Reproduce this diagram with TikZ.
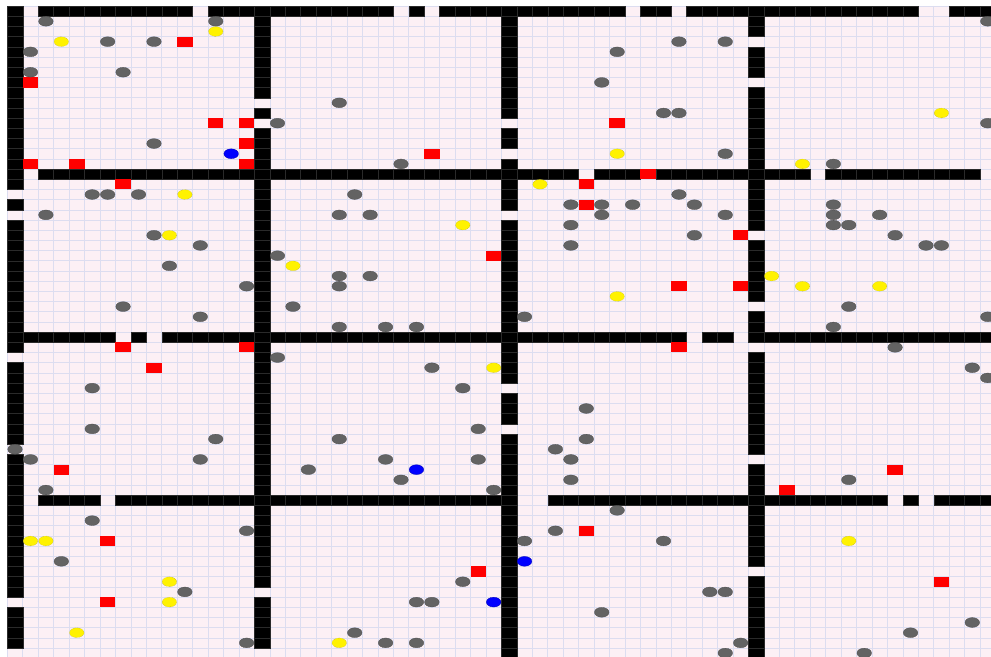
\documentclass[tikz,border=0pt]{standalone}
\definecolor{bgpink}{HTML}{FCF0F5}
\definecolor{gridc}{HTML}{DCDDF0}
\definecolor{agentgray}{HTML}{636363}
\definecolor{wallline}{HTML}{2A2A2A}
\begin{document}
\begin{tikzpicture}[x=15.44pt,y=-10.19pt,
  wallcell/.style={fill=black,draw=wallline,line width=0.4pt},
  redbox/.style={fill=red,draw=none},
  grayagent/.style={fill=agentgray,draw=agentgray!80!black,line width=0.3pt},
  yellowagent/.style={fill=yellow,draw=yellow!45!black,line width=0.3pt,densely dotted},
  blueagent/.style={fill=blue,draw=blue!70!black,line width=0.3pt},
  gridline/.style={draw=gridc,line width=0.5pt}]
\useasboundingbox (-0.4728,-0.5888) rectangle (63.711,63.886);
\clip (-0.4728,-0.5888) rectangle (63.711,63.886);
\fill[white] (-0.4728,-0.5888) rectangle (63.711,63.886);
\fill[bgpink] (0,0) rectangle (64,64);
\foreach \i in {0,...,64} {
  \draw[gridline] (\i,0) -- (\i,64);
  \draw[gridline] (0,\i) -- (64,\i);
}
% horizontal walls: row / first col / last col
\foreach \r/\a/\b in {0/0/0,0/2/11,0/13/24,0/26/26,0/28/39,0/41/42,0/44/58,0/61/63,
  16/0/0,16/2/36,16/38/40,16/42/51,16/53/62,
  32/0/6,32/8/8,32/10/43,32/45/46,32/48/63,
  48/0/0,48/2/5,48/7/32,48/35/56,48/58/58,48/60/63} {
  \foreach \c in {\a,...,\b} { \draw[wallcell] (\c,\r) rectangle ++(1,1); }
}
% vertical walls: col / first row / last row
\foreach \c/\a/\b in {0/0/17,0/19/19,0/21/33,0/35/42,0/44/57,0/59/62,
  16/0/8,16/10/10,16/12/56,16/58/62,
  32/0/10,32/12/13,32/15/19,32/21/36,32/38/40,32/42/63,
  48/0/2,48/4/6,48/8/21,48/23/28,48/30/32,48/34/43,48/45/54,48/56/63} {
  \foreach \r in {\a,...,\b} { \draw[wallcell] (\c,\r) rectangle ++(1,1); }
}
% red boxes
\foreach \c/\r in {11/3,1/7,13/11,15/11,15/13,1/15,4/15,15/15,27/14,39/11,7/17,41/16,
  37/17,37/19,47/22,43/27,47/27,31/24,7/33,15/33,9/35,3/45,43/33,57/45,50/47,
  6/52,6/58,30/55,37/51,60/56} {
  \fill[redbox] (\c,\r) rectangle ++(1,1);
}
% gray agents
\foreach \c/\r in {2/1,13/1,6/3,9/3,1/4,1/6,7/6,9/13,21/9,17/11,25/15,
  43/3,46/3,39/4,38/7,42/10,43/10,46/14,63/1,63/11,53/15,
  5/18,6/18,8/18,2/20,9/22,12/23,10/25,15/27,7/29,12/30,
  22/18,21/20,23/20,17/24,21/26,23/26,21/27,18/29,21/31,24/31,26/31,
  43/18,36/19,38/19,40/19,44/19,38/20,46/20,36/21,44/22,36/23,33/30,
  53/19,53/20,56/20,53/21,54/21,57/22,59/23,60/23,54/29,63/30,53/31,
  5/37,5/41,13/42,0/43,1/44,12/44,2/47,
  17/34,27/35,29/37,30/41,21/42,24/44,30/44,19/45,25/46,31/47,
  37/39,37/42,35/43,36/44,36/46,57/33,62/35,63/36,54/46,
  5/50,15/51,3/54,11/57,15/62,22/61,24/62,26/62,29/56,26/58,27/58,
  33/52,35/51,39/49,42/52,38/59,45/57,46/57,47/62,46/63,62/60,58/61,55/63} {
  \draw[grayagent] (\c+0.5,\r+0.5) ellipse [x radius=7.3pt, y radius=4.9pt];
}
% yellow agents
\foreach \c/\r in {3/3,13/2,39/14,60/10,51/15,11/18,10/22,29/21,18/25,34/17,39/28,
  49/26,51/27,56/27,31/35,1/52,2/52,10/56,10/58,4/61,21/62,54/52} {
  \draw[yellowagent] (\c+0.5,\r+0.5) ellipse [x radius=7.3pt, y radius=4.9pt];
}
% blue agents
\foreach \c/\r in {14/14,26/45,33/54,31/58} {
  \draw[blueagent] (\c+0.5,\r+0.5) ellipse [x radius=7.3pt, y radius=4.9pt];
}
\end{tikzpicture}
\end{document}
